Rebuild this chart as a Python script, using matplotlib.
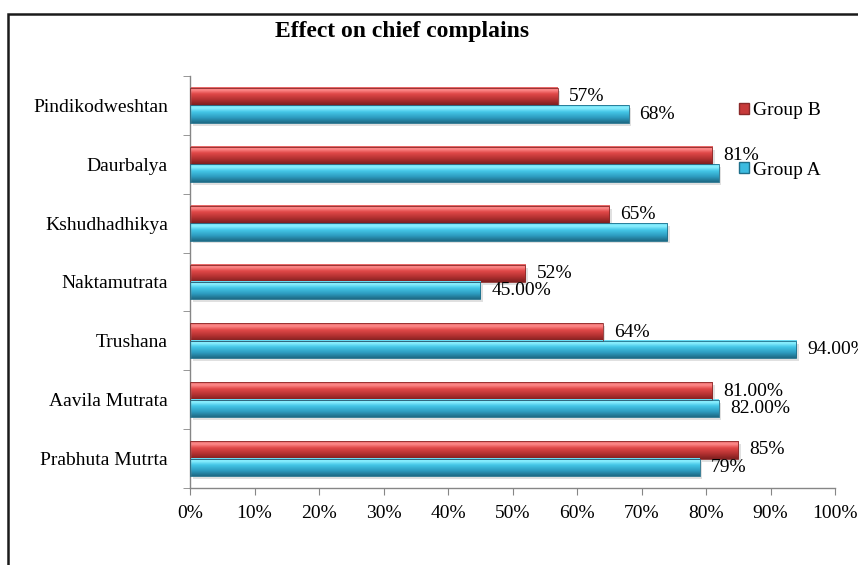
import numpy as np
import matplotlib
matplotlib.use("Agg")
import matplotlib.pyplot as plt
from matplotlib.colors import LinearSegmentedColormap
from matplotlib.patches import Patch, Rectangle

# data, top to bottom as in the chart
categories = ["Pindikodweshtan", "Daurbalya", "Kshudhadhikya", "Naktamutrata",
              "Trushana", "Aavila Mutrata", "Prabhuta Mutrta"]
group_b = [57, 81, 65, 52, 64, 81, 85]
group_a = [68, 82, 74, 45, 94, 82, 79]
labels_b = ["57%", "81%", "65%", "52%", "64%", "81.00%", "85%"]
labels_a = ["68%", None, None, "45.00%", "94.00%", "82.00%", "79%"]
xticks = [0, 10, 20, 30, 40, 50, 60, 70, 80, 90, 100]

plt.rcParams['font.family'] = ['Liberation Serif', 'DejaVu Serif']

red_cmap = LinearSegmentedColormap.from_list(
    "redcyl", [(0, "#7e1f1f"), (0.3, "#b33131"), (0.62, "#e04848"),
               (0.85, "#ff8c8c"), (1.0, "#e46262")])
cyan_cmap = LinearSegmentedColormap.from_list(
    "cyancyl", [(0, "#1d6a85"), (0.3, "#2d9cc0"), (0.62, "#44c6e7"),
                (0.85, "#8ef1ff"), (1.0, "#62d8f1")])
grad = np.linspace(0, 1, 64).reshape(-1, 1)

fig = plt.figure(figsize=(8.58, 5.65), dpi=100)
ax = fig.add_axes([190/858, 77/565, 645/858, 412/565])

n = len(categories)
pos = np.arange(n)[::-1]
h = 0.295

def cyl_bar(val, y0, cmap, edge):
    # shadow
    ax.add_patch(Rectangle((0.4, y0 - 0.05), val, h, facecolor="#000000",
                           alpha=0.12, lw=0, zorder=1))
    ax.imshow(grad, extent=[0, val, y0, y0 + h], origin="lower", aspect="auto",
              cmap=cmap, zorder=2, interpolation="bilinear")
    ax.add_patch(Rectangle((0, y0), val, h, fill=False, edgecolor=edge,
                           lw=0.6, zorder=3))

for i in range(n):
    cyl_bar(group_b[i], pos[i], red_cmap, "#8a2a2a")
    cyl_bar(group_a[i], pos[i] - h, cyan_cmap, "#1f6f8a")
    if labels_b[i]:
        ax.annotate(labels_b[i], (group_b[i], pos[i] + h/2), xytext=(11, 0),
                    textcoords="offset pixels", va="center", ha="left",
                    fontsize=14, zorder=5)
    if labels_a[i]:
        ax.annotate(labels_a[i], (group_a[i], pos[i] - h/2), xytext=(11, 0),
                    textcoords="offset pixels", va="center", ha="left",
                    fontsize=14, zorder=5, annotation_clip=False)

ax.set_xlim(0, 100)
ax.set_ylim(-0.5, n - 0.5)
ax.set_xticks(xticks)
ax.set_xticklabels([f"{t}%" for t in xticks], fontsize=14)
ax.set_yticks(pos)
ax.set_yticklabels(categories, fontsize=14)
ax.set_yticks(np.arange(n + 1) - 0.5, minor=True)
ax.tick_params(axis="y", which="major", length=0, pad=16)
ax.tick_params(axis="y", which="minor", length=5, color="#868686", direction="out")
ax.tick_params(axis="x", length=5, color="#868686", direction="out", pad=7)

for s in ["top", "right"]:
    ax.spines[s].set_visible(False)
for s in ["left", "bottom"]:
    ax.spines[s].set_color("#868686")
    ax.spines[s].set_linewidth(1)

handles = [Patch(facecolor="#c73a3a", edgecolor="#8a2a2a", label="Group B"),
           Patch(facecolor="#3cbbe0", edgecolor="#1f6f8a", label="Group A")]
fig.legend(handles=handles, loc="upper left", bbox_to_anchor=(739/858, 1 - 102/565),
           frameon=False, fontsize=14, handlelength=0.5, handleheight=0.5,
           handletextpad=0.2, labelspacing=2.2, borderpad=0, borderaxespad=0)

fig.text(402/858, 1 - 31/565, "Effect on chief complains", ha="center",
         va="center", fontsize=17, fontweight="bold")

fig.add_artist(Rectangle((8/858, -0.1), 1.2, (565 - 14)/565 + 0.1,
                         transform=fig.transFigure, fill=False,
                         edgecolor="#1a1a1a", lw=1.8))

fig.savefig("out.png", dpi=100)
